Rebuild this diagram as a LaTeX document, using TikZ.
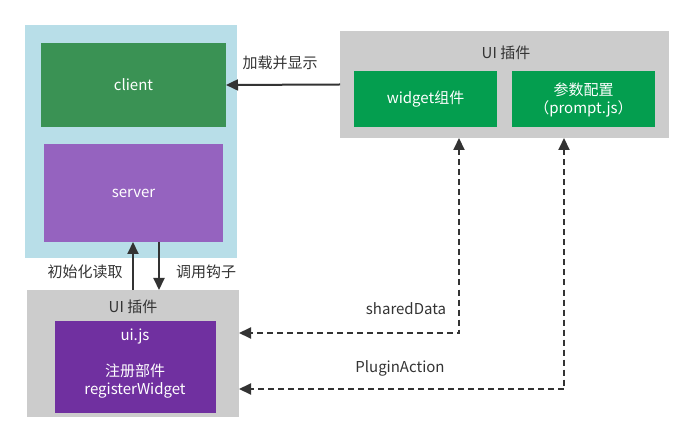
\documentclass[tikz,border=0pt]{standalone}
\usepackage{fontspec}
\setmainfont{Noto Sans CJK SC}
\usetikzlibrary{arrows.meta}
\definecolor{outerblue}{HTML}{B8DEE8}
\definecolor{clientgreen}{HTML}{3A9254}
\definecolor{serverpurple}{HTML}{9563BF}
\definecolor{plugingray}{HTML}{CCCCCC}
\definecolor{widgetgreen}{HTML}{049E4F}
\definecolor{uipurple}{HTML}{7030A0}
\definecolor{txtdark}{HTML}{333333}
\tikzset{
  box/.style={anchor=north west, inner sep=0pt, outer sep=0pt, draw=none, text=white},
  lbl/.style={text=txtdark, inner sep=0pt},
  wtxt/.style={text=white, inner sep=0pt, align=center},
  tip/.style={Triangle[length=12pt,width=11pt]},
  arr/.style={draw=txtdark, line width=2pt, -{Triangle[length=12pt,width=11pt]}},
  darr/.style={draw=txtdark, line width=2pt, dash pattern=on 6pt off 4pt, {Triangle[length=12pt,width=11pt]}-{Triangle[length=12pt,width=11pt]}},
}
\begin{document}
\begin{tikzpicture}[x=1pt,y=-1pt,font=\fontsize{15}{18.5}\selectfont]
\useasboundingbox (0,0) rectangle (695,443);
% left container
\node[box, fill=outerblue, minimum width=212pt, minimum height=233pt] (outer) at (25,25) {};
\node[box, fill=clientgreen, minimum width=185pt, minimum height=84pt] (client) at (41,43) {};
\node[wtxt] at (client.center) {client};
\node[box, fill=serverpurple, minimum width=179pt, minimum height=98pt] (server) at (44,144) {};
\node[wtxt] at (server.center) {server};
% top-right plugin
\node[box, fill=plugingray, minimum width=329pt, minimum height=107pt] (topplug) at (340,31) {};
\node[lbl] (toptitle) at (506,53) {UI 插件};
\node[box, fill=widgetgreen, minimum width=143pt, minimum height=56pt] (widget) at (354,71) {};
\node[wtxt] at (widget.center) {widget组件};
\node[box, fill=widgetgreen, minimum width=143pt, minimum height=56pt] (param) at (512,71) {};
\node[wtxt] at (583.5,100) {参数配置\\（prompt.js）};
% bottom-left plugin
\node[box, fill=plugingray, minimum width=212pt, minimum height=127pt] (botplug) at (27,290) {};
\node[lbl] (bottitle) at (133,307) {UI 插件};
\node[box, fill=uipurple, minimum width=161pt, minimum height=92pt] (uijs) at (55,321) {};
\node[wtxt] (uijstxt) at (135,337) {ui.js};
\node[wtxt] (regtxt) at (135,381) {注册部件\\registerWidget};
% connectors
\draw[arr] (topplug.west) -- (client.east);
\node[lbl] (loadlbl) at (280,63) {加载并显示};
\draw[arr] ([xshift=106pt]botplug.north west) -- ([xshift=89pt]server.south west);
\draw[arr] ([xshift=115pt]server.south west) -- ([xshift=132pt]botplug.north west);
\node[lbl] (initlbl) at (85,272) {初始化读取};
\node[lbl] (hooklbl) at (206,272) {调用钩子};
\draw[darr] ([xshift=105pt]widget.south west |- topplug.south) |- ([yshift=-43pt]botplug.north east);
\draw[darr] ([xshift=52pt]param.south west |- topplug.south) |- ([yshift=-99pt]botplug.north east);
\node[lbl] (sdlbl) at (406,309) {sharedData};
\node[lbl] (palbl) at (400,368) {PluginAction};
\end{tikzpicture}
\end{document}
